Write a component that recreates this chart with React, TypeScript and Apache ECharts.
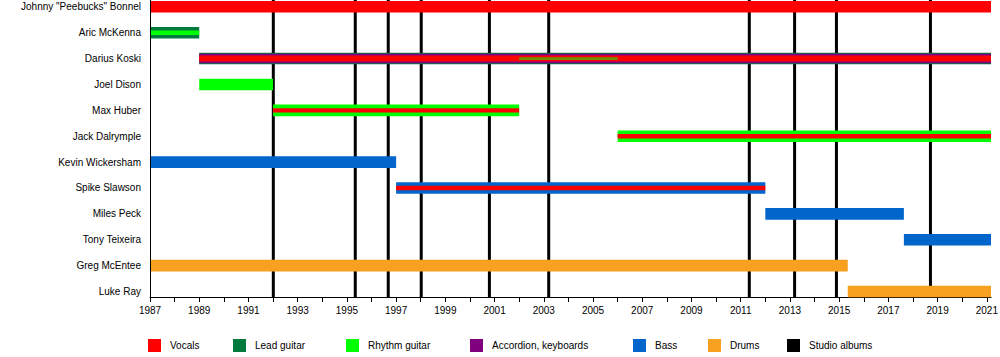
import React, { useEffect, useRef } from "react";
import * as echarts from "echarts";

const members = [
  'Johnny "Peebucks" Bonnel',
  "Aric McKenna",
  "Darius Koski",
  "Joel Dison",
  "Max Huber",
  "Jack Dalrymple",
  "Kevin Wickersham",
  "Spike Slawson",
  "Miles Peck",
  "Tony Teixeira",
  "Greg McEntee",
  "Luke Ray",
];

const yearStart = 1987;
const yearEnd = 2021.17; // "present" at time of drawing

// [member, start, end, layer] ; layer: 1 = main role, higher = drawn on top, nested inside
const vocals: [string, number, number, number][] = [
  ['Johnny "Peebucks" Bonnel', 1987, yearEnd, 1],
  ["Darius Koski", 1989, yearEnd, 3],
  ["Max Huber", 1992, 2002, 4],
  ["Jack Dalrymple", 2006, yearEnd, 4],
  ["Spike Slawson", 1997, 2012, 4],
];
const leadGuitar: [string, number, number, number][] = [
  ["Aric McKenna", 1987, 1989, 1],
  ["Darius Koski", 1989, yearEnd, 1],
];
const rhythmGuitar: [string, number, number, number][] = [
  ["Aric McKenna", 1987, 1989, 4],
  ["Darius Koski", 2002, 2006, 5],
  ["Joel Dison", 1989, 1992, 1],
  ["Max Huber", 1992, 2002, 1],
  ["Jack Dalrymple", 2006, yearEnd, 1],
];
const accordion: [string, number, number, number][] = [
  ["Darius Koski", 1989, yearEnd, 2],
];
const bass: [string, number, number, number][] = [
  ["Kevin Wickersham", 1987, 1997, 1],
  ["Spike Slawson", 1997, 2012, 1],
  ["Miles Peck", 2012, 2017.63, 1],
  ["Tony Teixeira", 2017.63, yearEnd, 1],
];
const drums: [string, number, number, number][] = [
  ["Greg McEntee", 1987, 2015.35, 1],
  ["Luke Ray", 2015.35, yearEnd, 1],
];
const studioAlbums = [1992.01, 1995.34, 1996.68, 1998.02, 2000.79, 2003.2, 2011.35, 2013.19, 2014.89, 2018.71];

const tickYears = [
  1987, 1988, 1989, 1990, 1991, 1992, 1993, 1994, 1995, 1996, 1997, 1998,
  1999, 2000, 2001, 2002, 2003, 2004, 2005, 2006, 2007, 2008, 2009, 2010,
  2011, 2012, 2013, 2014, 2015, 2016, 2017, 2018, 2019, 2020, 2021,
];
const labelYears = [
  1987, 1989, 1991, 1993, 1995, 1997, 1999, 2001, 2003, 2005, 2007, 2009,
  2011, 2013, 2015, 2017, 2019, 2021,
];

const FONT = "Liberation Sans, Arial, Helvetica, sans-serif";
const THICK: Record<number, number> = { 1: 11.6, 2: 9.4, 3: 6, 4: 4.4, 5: 2.8 };
const ALPHA: Record<number, number> = { 5: 0.55 };

const roles = [
  { name: "Vocals", color: "#ff0000", data: vocals, legendLeft: 148 },
  { name: "Lead guitar", color: "#007a3d", data: leadGuitar, legendLeft: 233 },
  { name: "Rhythm guitar", color: "#00ff00", data: rhythmGuitar, legendLeft: 346 },
  { name: "Accordion, keyboards", color: "#800080", data: accordion, legendLeft: 470 },
  { name: "Bass", color: "#0066cc", data: bass, legendLeft: 633 },
  { name: "Drums", color: "#f8a020", data: drums, legendLeft: 708 },
];

export default function App() {
  const ref = useRef<HTMLDivElement>(null);
  useEffect(() => {
    if (!ref.current) return;
    const chart = echarts.init(ref.current, null, { renderer: "svg" });

    const roleSeries = roles.map((r) => ({
      type: "custom",
      name: r.name,
      clip: false,
      z: 3,
      itemStyle: { color: r.color },
      encode: { x: [0, 1], y: 2 },
      data: r.data.map(([m, s, e, l]) => [s, e, members.indexOf(m), l]),
      renderItem: (params: any, api: any) => {
        const row = api.value(2);
        const layer = api.value(3);
        const a = api.coord([api.value(0), row]);
        const b = api.coord([api.value(1), row]);
        const h = THICK[layer];
        return {
          type: "rect",
          z2: layer,
          shape: { x: a[0], y: a[1] - h / 2, width: b[0] - a[0], height: h },
          style: { fill: r.color, opacity: ALPHA[layer] ?? 1 },
        };
      },
    }));

    const albumSeries = {
      type: "custom",
      name: "Studio albums",
      clip: false,
      z: 2,
      itemStyle: { color: "#000000" },
      encode: { x: 0, y: 1 },
      data: studioAlbums.map((v) => [v, 0]),
      renderItem: (params: any, api: any) => {
        const cs = params.coordSys;
        const x = api.coord([api.value(0), 0])[0];
        return {
          type: "line",
          shape: { x1: x, y1: cs.y - 6.8, x2: x, y2: cs.y + cs.height + 5.5 },
          style: { stroke: "#000", lineWidth: 3 },
        };
      },
    };

    const frameSeries = {
      type: "custom",
      name: "frame",
      clip: false,
      silent: true,
      z: 4,
      encode: { x: 0, y: 1 },
      data: [[yearStart, 0]],
      renderItem: (params: any, api: any) => {
        const cs = params.coordSys;
        const x = Math.round(api.coord([api.value(0), 0])[0]) + 0.5;
        return {
          type: "line",
          shape: { x1: x, y1: cs.y - 6.8, x2: x, y2: cs.y + cs.height + 5.5 },
          style: { stroke: "#000", lineWidth: 1 },
        };
      },
    };

    const legendItems = [
      ...roles.map((r) => ({ name: r.name, left: r.legendLeft })),
      { name: "Studio albums", left: 787 },
    ];

    chart.setOption({
      animation: false,
      backgroundColor: "#ffffff",
      textStyle: { fontFamily: FONT },
      grid: {
        left: 150,
        right: 9,
        top: 6.8,
        bottom: 65.5,
        containLabel: false,
        outerBoundsMode: "none",
      },
      legend: legendItems.map((it) => ({
        data: [it.name],
        left: it.left,
        top: 339,
        padding: 0,
        itemWidth: 13,
        itemHeight: 13,
        icon: "rect",
        selectedMode: false,
        textStyle: { fontSize: 10, color: "#000", fontFamily: FONT, padding: [0, 0, 0, 4] },
      })),
      xAxis: {
        type: "value",
        min: yearStart,
        max: yearEnd,
        offset: 5.5,
        splitLine: { show: false },
        axisLine: { show: true, lineStyle: { color: "#000", width: 1 } },
        axisTick: {
          show: true,
          length: 5,
          customValues: tickYears,
          lineStyle: { color: "#000", width: 1 },
        },
        axisLabel: {
          margin: 8,
          fontSize: 10,
          color: "#000",
          fontFamily: FONT,
          customValues: labelYears,
          formatter: (v: number) => String(v),
        },
      },
      yAxis: {
        type: "category",
        inverse: true,
        boundaryGap: false,
        data: members,
        axisLine: { show: false },
        axisTick: { show: false },
        splitLine: { show: false },
        axisLabel: { margin: 9, fontSize: 10, color: "#000", fontFamily: FONT },
      },
      series: [albumSeries, ...roleSeries, frameSeries],
    });

    return () => chart.dispose();
  }, []);

  return (
    <div
      ref={ref}
      style={{ position: "fixed", left: 0, top: 0, width: 1000, height: 357, background: "#fff" }}
    />
  );
}
